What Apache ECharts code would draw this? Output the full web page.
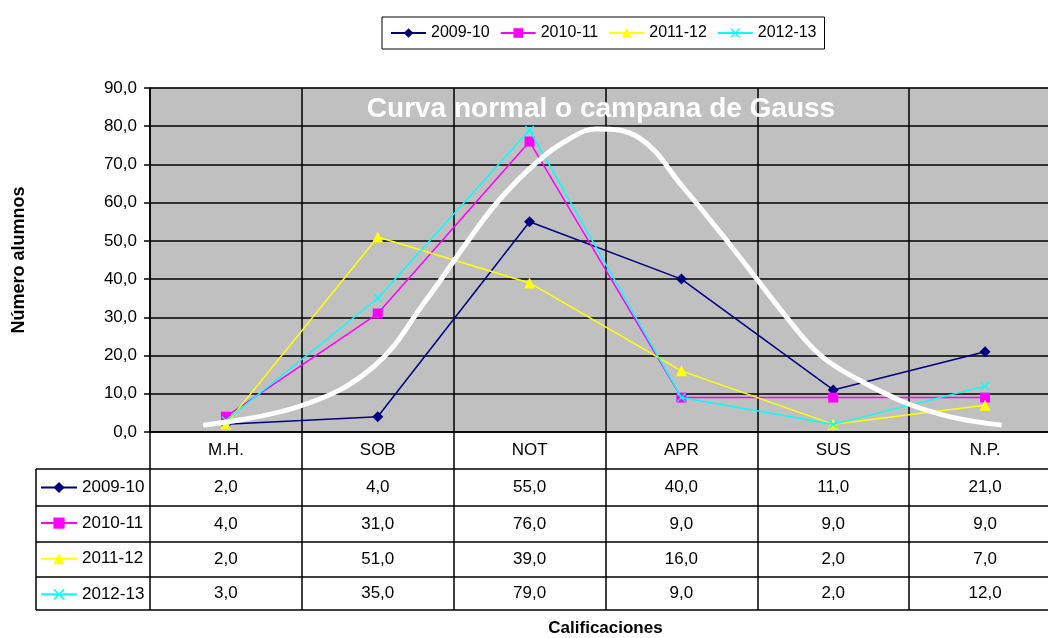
<!DOCTYPE html>
<html>
<head>
<meta charset="utf-8">
<script src="https://cdn.jsdelivr.net/npm/echarts@6/dist/echarts.min.js"></script>
<style>
  html, body { margin: 0; padding: 0; background: #fff; }
  #main { width: 1048px; height: 638px; }
</style>
</head>
<body>
<div id="main"></div>
<script>
// categorias y series
const categories = ['M.H.', 'SOB', 'NOT', 'APR', 'SUS', 'N.P.'];
const seasons = ['2009-10', '2010-11', '2011-12', '2012-13'];
const v2009 = [2, 4, 55, 40, 11, 21];
const v2010 = [4, 31, 76, 9, 9, 9];
const v2011 = [2, 51, 39, 16, 2, 7];
const v2012 = [3, 35, 79, 9, 2, 12];
// curva blanca (x en unidades de columna 0..6)
const gaussX = [0.35, 0.99, 1.47, 1.82, 2.1, 2.3, 2.55, 2.75, 2.94, 3.22, 3.51, 3.82, 4.26, 4.43, 4.67, 4.98, 5.28, 5.61];
const gaussY = [1.8, 6.8, 17.0, 34.6, 50.3, 60.7, 70.7, 76.4, 79.3, 77.0, 64.1, 49.0, 26.7, 19.6, 13.6, 7.6, 3.9, 1.8];

const FONT = 'Liberation Sans, Arial, sans-serif';
const fmt = (v) => v.toFixed(1).replace('.', ',');
const crossPath = 'path://M1,0L5,4L9,0L10,1L6,5L10,9L9,10L5,6L1,10L0,9L4,5L0,1Z';

const seriesValues = [v2009, v2010, v2011, v2012];
const seriesColors = ['#000080', '#ff00ff', '#ffff00', '#00ffff'];
const seriesSymbols = ['diamond', 'rect', 'triangle', crossPath];
const seriesSizes = [11, 10, 11, 9];

const chart = echarts.init(document.getElementById('main'));

const option = {
  backgroundColor: '#fff',
  animation: false,
  title: {
    text: 'Curva normal o campana de Gauss',
    left: 601,
    top: 95,
    padding: 0,
    textAlign: 'center',
    textStyle: { color: '#fff', fontSize: 28, fontWeight: 'bold', fontFamily: FONT },
    z: 10,
  },
  legend: [
    {
      data: seasons,
      left: 382,
      top: 17,
      orient: 'horizontal',
      itemWidth: 35,
      itemHeight: 12,
      itemGap: 10,
      padding: [8, 8],
      borderColor: '#000',
      borderWidth: 1,
      textStyle: { fontSize: 16, color: '#000', fontFamily: FONT },
    },
    {
      data: seasons,
      left: 40,
      top: 479,
      orient: 'vertical',
      itemWidth: 36,
      itemHeight: 14,
      itemGap: 18.6,
      padding: 0,
      textStyle: { fontSize: 17, color: '#000', fontFamily: FONT },
    },
  ],
  grid: {
    left: 150,
    top: 88,
    right: -13,
    bottom: 206,
    outerBoundsMode: 'none',
    containLabel: false,
    show: true,
    backgroundColor: '#c0c0c0',
    borderColor: '#808080',
    borderWidth: 1,
  },
  xAxis: [
    {
      type: 'category',
      data: categories,
      boundaryGap: true,
      name: 'Calificaciones',
      nameLocation: 'middle',
      nameGap: 188,
      nameTextStyle: { fontSize: 17, fontWeight: 'bold', color: '#000', fontFamily: FONT },
      axisLine: { lineStyle: { color: '#000', width: 1.5 } },
      axisTick: { show: true, interval: 0, length: 178, lineStyle: { color: '#000', width: 1.5 } },
      axisLabel: { interval: 0, margin: 10, fontSize: 17, color: '#000', fontFamily: FONT },
      splitLine: { show: true, interval: 0, lineStyle: { color: '#000', width: 1.5 } },
    },
    {
      type: 'value',
      min: 0,
      max: 6,
      show: false,
    },
  ],
  yAxis: {
    type: 'value',
    min: 0,
    max: 90,
    interval: 10,
    name: 'Número alumnos',
    nameLocation: 'middle',
    nameRotate: 90,
    nameGap: 122,
    nameTextStyle: { fontSize: 18, fontWeight: 'bold', color: '#000', fontFamily: FONT },
    axisLine: { show: true, lineStyle: { color: '#000', width: 1.5 } },
    axisTick: { show: true, length: 6, lineStyle: { color: '#000', width: 1.5 } },
    axisLabel: { margin: 13, fontSize: 17, color: '#000', fontFamily: FONT, formatter: fmt },
    splitLine: { show: true, lineStyle: { color: '#000', width: 1.5 } },
  },
  series: [
    ...seasons.map((name, i) => ({
      name: name,
      type: 'line',
      data: seriesValues[i],
      symbol: seriesSymbols[i],
      symbolSize: seriesSizes[i],
      showAllSymbol: true,
      color: seriesColors[i],
      lineStyle: { color: seriesColors[i], width: 1.5 },
      itemStyle: { color: seriesColors[i], borderWidth: 0 },
      z: 3 + i,
    })),
    {
      name: 'Gauss',
      type: 'line',
      xAxisIndex: 1,
      data: gaussX.map((x, i) => [x, gaussY[i]]),
      smooth: 0.4,
      symbol: 'none',
      lineStyle: { color: '#fff', width: 5 },
      z: 8,
      silent: true,
    },
  ],
};
chart.setOption(option);

// tabla de datos bajo el grafico
const rowLines = [469, 506, 542, 577, 610];
const tableLeft = 36;
const plotRight = chart.convertToPixel({ xAxisIndex: 1 }, 6);
const graphics = [];
const lineStyle = { stroke: '#000', lineWidth: 1.5 };
rowLines.forEach((y) => {
  graphics.push({ type: 'line', shape: { x1: tableLeft, y1: y, x2: plotRight, y2: y }, style: lineStyle, z: 20 });
});
graphics.push({ type: 'line', shape: { x1: tableLeft, y1: rowLines[0], x2: tableLeft, y2: rowLines[rowLines.length - 1] }, style: lineStyle, z: 20 });
seriesValues.forEach((vals, r) => {
  const yc = (rowLines[r] + rowLines[r + 1]) / 2;
  vals.forEach((v, c) => {
    const xc = chart.convertToPixel({ xAxisIndex: 0 }, c);
    graphics.push({
      type: 'text',
      x: xc,
      y: yc,
      style: { text: fmt(v), align: 'center', verticalAlign: 'middle', fontSize: 17, fontFamily: FONT, fill: '#000' },
      z: 20,
    });
  });
});
chart.setOption({ graphic: graphics });
</script>
</body>
</html>
